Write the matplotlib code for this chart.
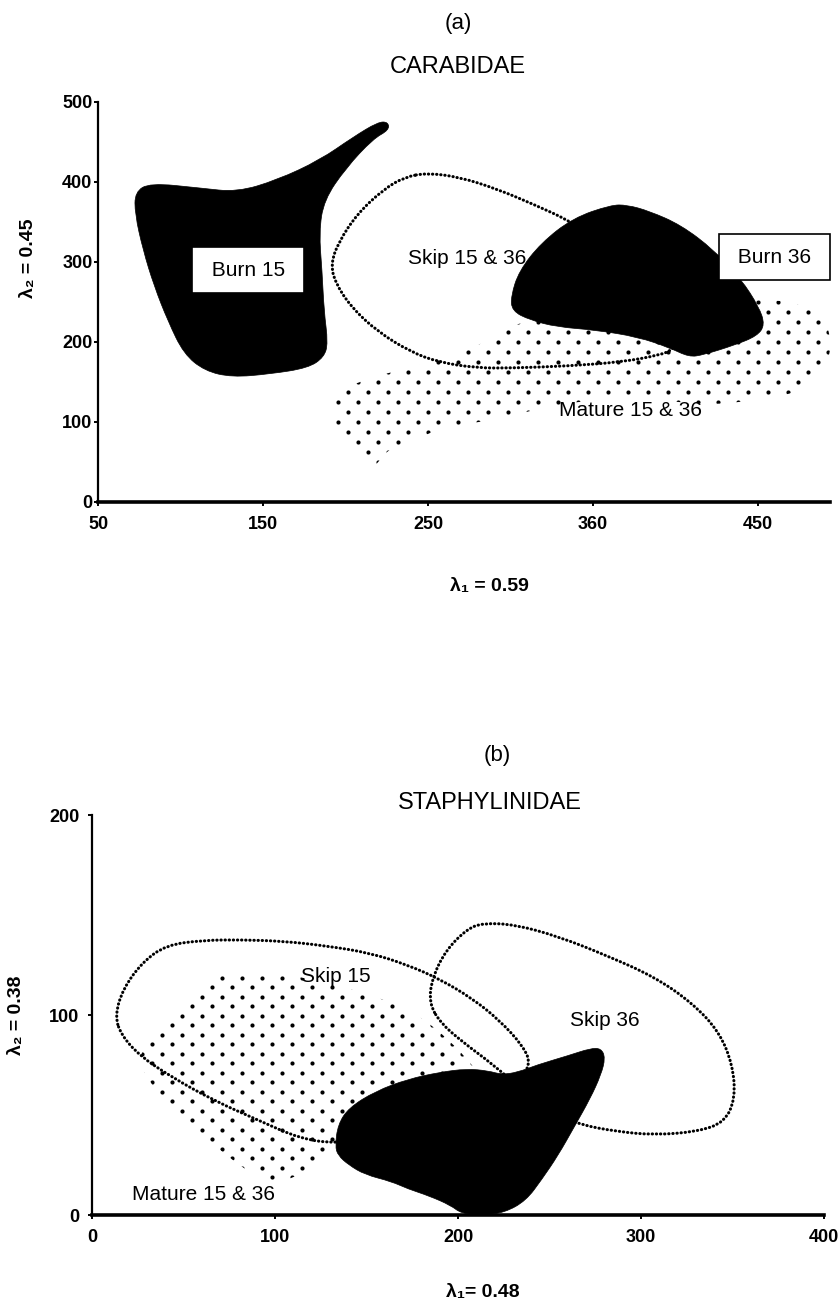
import matplotlib
matplotlib.use('Agg')
import matplotlib.pyplot as plt
import numpy as np
from matplotlib.patches import PathPatch
from matplotlib.path import Path

plt.rcParams['font.family'] = ['Liberation Sans', 'DejaVu Sans']

W, H = 839, 1307

# ---- (a) CARABIDAE ----
a_xticks = [50, 150, 250, 350, 450]
a_xticklabels = ['50', '150', '250', '360', '450']
a_yticks = [0, 100, 200, 300, 400, 500]

burn15_x = [72.4, 81.5, 111.8, 134.2, 158.5, 184.5, 204.5, 219.7, 225.8, 226.4, 216.7, 200.3,
            187.0, 184.0, 185.8, 187.0, 189.4, 187.0, 177.3, 154.2, 131.2, 114.8, 102.0, 92.4,
            84.0, 77.3, 72.4]
burn15_y = [387.5, 398.8, 392.5, 387.5, 402.5, 427.5, 456.0, 475.0, 475.0, 465.0, 453.8, 417.5,
            377.5, 337.5, 288.8, 238.8, 198.8, 181.0, 167.5, 160.0, 156.0, 163.8, 185.0, 226.0,
            270.0, 315.0, 360.0]

burn36_x = [360.9, 370.6, 383.9, 403.3, 423.3, 439.7, 450.6, 454.2, 449.4, 436.1, 416.7, 408.2,
            396.7, 377.3, 351.2, 328.2, 311.8, 300.9, 300.3, 305.2, 318.5, 337.9]
burn36_y = [371.3, 371.3, 363.8, 346.3, 315.0, 278.8, 243.8, 221.3, 207.5, 196.3, 183.8, 181.3,
            192.5, 206.3, 215.0, 218.8, 227.5, 238.8, 257.5, 288.8, 323.8, 355.0]

skip_a_x = [249.4, 268.8, 291.8, 314.8, 334.8, 354.2, 378.5, 396.7, 402.7, 397.9, 390.6, 367.6,
            334.8, 302.1, 279.1, 256.1, 239.7, 219.7, 203.3, 193.6, 191.2, 195.5, 207.0, 223.3,
            236.1]
skip_a_y = [411.3, 406.3, 391.3, 371.3, 352.5, 327.5, 290.0, 240.0, 202.5, 190.0, 183.8, 175.0,
            170.0, 167.5, 167.5, 175.0, 187.5, 212.5, 243.8, 275.0, 297.5, 323.8, 360.0, 391.3,
            406.3]

mature_a_x = [215.5, 208.8, 199.7, 190.6, 192.4, 199.7, 214.8, 233.0, 257.3, 275.5, 293.6, 305.8,
              330.0, 360.3, 390.6, 414.8, 439.1, 469.4, 492.4, 494.8, 478.5, 442.1, 414.8, 378.5,
              348.2, 317.9, 296.7, 257.3, 245.2, 227.0, 220.9]
mature_a_y = [40.0, 55.0, 77.5, 102.5, 127.5, 142.5, 155.0, 165.0, 177.5, 190.0, 211.3, 225.0,
              230.0, 221.3, 215.0, 225.0, 252.5, 252.5, 230.0, 177.5, 137.5, 125.0, 121.3, 131.3,
              127.5, 117.5, 105.0, 92.5, 80.0, 67.5, 52.5]

# ---- (b) STAPHYLINIDAE ----
b_xticks = [0, 100, 200, 300, 400]
b_yticks = [0, 100, 200]

skip15_x = [12.6, 17.0, 27.3, 40.5, 61.0, 81.6, 105.0, 128.5, 152.0, 172.5, 190.1, 207.7, 222.4,
            235.6, 240.0, 231.2, 207.7, 178.4, 154.9, 134.4, 113.8, 90.4, 66.9, 43.4, 25.8, 15.6]
skip15_y = [100.0, 113.1, 126.2, 135.0, 137.4, 137.6, 136.9, 134.5, 131.0, 125.0, 117.9, 108.3,
            97.6, 84.5, 75.0, 65.5, 53.6, 44.0, 39.3, 35.7, 38.1, 47.6, 57.1, 69.0, 79.8, 90.5]

skip36_x = [184.3, 185.7, 193.1, 204.8, 213.6, 231.2, 254.7, 281.1, 307.5, 328.0, 342.7, 350.1,
            351.5, 345.7, 331.0, 307.5, 287.0, 266.4, 251.8, 234.2, 219.5, 201.9, 190.1]
skip36_y = [106.0, 117.9, 132.1, 142.9, 146.0, 145.2, 139.3, 129.8, 119.0, 106.0, 91.7, 75.0,
            58.3, 46.4, 41.7, 40.0, 41.7, 45.2, 51.2, 63.1, 75.0, 86.9, 96.4]

burn_b_x = [132.9, 134.4, 140.3, 154.9, 172.5, 190.1, 204.8, 216.5, 223.9, 232.7, 243.0, 260.6,
            272.3, 278.2, 280.5, 278.2, 272.3, 263.5, 254.7, 245.9, 237.1, 225.4, 213.6, 201.9,
            196.0, 184.3, 172.5, 163.7, 149.1, 140.3, 134.4]
burn_b_y = [34.5, 45.2, 53.6, 61.9, 67.9, 71.4, 73.1, 72.1, 70.2, 71.4, 75.0, 79.8,
            83.3, 83.3, 78.6, 70.2, 58.3, 44.0, 29.8, 17.9, 7.1, 1.2, 0.0, 0.7,
            4.8, 9.5, 13.1, 16.7, 20.2, 25.0, 29.8]

mature_b_x = [69.8, 96.2, 125.6, 154.9, 178.4, 196.0, 207.7, 213.6, 172.5, 137.3, 128.5, 113.8,
              100.6, 87.4, 66.9, 46.4, 31.7, 24.4, 37.6, 52.2]
mature_b_y = [121.4, 122.1, 116.7, 109.5, 100.0, 86.9, 75.0, 67.9, 60.7, 41.7, 29.8, 20.2,
              15.5, 20.2, 34.5, 51.2, 65.5, 79.8, 95.2, 108.3]


def px_axes(left, top, right, bottom):
    return fig.add_axes([left / W, 1 - bottom / H, (right - left) / W, (bottom - top) / H])


def style_axes(ax, ypad):
    for s in ['top', 'right']:
        ax.spines[s].set_visible(False)
    ax.spines['left'].set_linewidth(1.6)
    ax.spines['bottom'].set_linewidth(2.6)
    ax.tick_params(axis='x', direction='out', length=3, width=1.4, pad=7, labelsize=13)
    ax.tick_params(axis='y', direction='out', length=3, width=1.4, pad=ypad, labelsize=13)


def smooth_path(xs, ys):
    # closed quadratic bezier chain using the outline points as control points
    p = np.column_stack([xs, ys])
    mids = (p + np.roll(p, -1, axis=0)) / 2
    verts = [mids[-1]]
    codes = [Path.MOVETO]
    for i in range(len(p)):
        verts += [p[i], mids[i]]
        codes += [Path.CURVE3, Path.CURVE3]
    verts.append(mids[-1])
    codes.append(Path.CLOSEPOLY)
    return Path(verts, codes)


def blob(ax, xs, ys):
    ax.add_patch(PathPatch(smooth_path(xs, ys), facecolor='black', edgecolor='black',
                           linewidth=0.5, zorder=3))


def dotted(ax, xs, ys):
    ax.add_patch(PathPatch(smooth_path(xs, ys), facecolor='none', edgecolor='black',
                           linewidth=2.2, linestyle=(0, (0.1, 1.25)), capstyle='round',
                           zorder=2))


def dot_fill(ax, xs, ys, dx, dy, size):
    patch = PathPatch(smooth_path(xs, ys), facecolor='none', edgecolor='none')
    ax.add_patch(patch)
    x0, x1 = ax.get_xlim()
    y0, y1 = ax.get_ylim()
    pts = []
    for i, yy in enumerate(np.arange(y0, y1, dy)):
        off = dx / 2 if i % 2 else 0
        for xx in np.arange(x0 + off, x1, dx):
            pts.append((xx, yy))
    pts = np.array(pts)
    sc = ax.scatter(pts[:, 0], pts[:, 1], s=size, color='black', linewidths=0, zorder=1)
    sc.set_clip_path(patch)


fig = plt.figure(figsize=(W / 100, H / 100), dpi=100)

# panel (a)
ax = px_axes(98, 102, 830, 502)
ax.set_xlim(50, 50 + 732 / 1.65)
ax.set_ylim(0, 500)
ax.set_xticks(a_xticks, a_xticklabels, fontweight='bold')
ax.set_yticks(a_yticks, [str(v) for v in a_yticks], fontweight='bold')
style_axes(ax, 1)
dot_fill(ax, mature_a_x, mature_a_y, 20 / 1.65, 10 / 0.8, 9)
dotted(ax, skip_a_x, skip_a_y)
blob(ax, burn15_x, burn15_y)
blob(ax, burn36_x, burn36_y)
box = dict(boxstyle='square,pad=0.65', facecolor='white', edgecolor='black', linewidth=1.2)
ax.text(141, 290, ' Burn 15 ', ha='center', va='center', fontsize=15, bbox=box, zorder=5)
ax.text(460, 306, ' Burn 36 ', ha='center', va='center', fontsize=15, bbox=box, zorder=5)
ax.text(274, 304, 'Skip 15 & 36', ha='center', va='center', fontsize=15, zorder=5)
ax.text(373, 114, 'Mature 15 & 36', ha='center', va='center', fontsize=15, zorder=5)

fig.text(458 / W, 1 - 23 / H, '(a)', ha='center', va='center', fontsize=16)
fig.text(458 / W, 1 - 67 / H, 'CARABIDAE', ha='center', va='center', fontsize=17)
fig.text(489 / W, 1 - 586 / H, 'λ\u2081 = 0.59', ha='center', va='center', fontsize=14,
         fontweight='bold')
fig.text(28 / W, 1 - 258 / H, 'λ\u2082 = 0.45', ha='center', va='center', fontsize=14,
         fontweight='bold', rotation=90)

# panel (b)
ax = px_axes(92, 815, 824, 1215)
ax.set_xlim(0, 400)
ax.set_ylim(0, 200)
ax.set_xticks(b_xticks, [str(v) for v in b_xticks], fontweight='bold')
ax.set_yticks(b_yticks, [str(v) for v in b_yticks], fontweight='bold')
style_axes(ax, 6)
dot_fill(ax, mature_b_x, mature_b_y, 20 / 1.83, 9.5 / 2.0, 9)
dotted(ax, skip15_x, skip15_y)
dotted(ax, skip36_x, skip36_y)
blob(ax, burn_b_x, burn_b_y)
ax.text(133, 119, 'Skip 15', ha='center', va='center', fontsize=15, zorder=5)
ax.text(280, 97, 'Skip 36', ha='center', va='center', fontsize=15, zorder=5)
ax.text(61, 10, 'Mature 15 & 36', ha='center', va='center', fontsize=15, zorder=5)

fig.text(497 / W, 1 - 755 / H, '(b)', ha='center', va='center', fontsize=16)
fig.text(490 / W, 1 - 803 / H, 'STAPHYLINIDAE', ha='center', va='center', fontsize=17)
fig.text(483 / W, 1 - 1293 / H, 'λ\u2081= 0.48', ha='center', va='center', fontsize=14,
         fontweight='bold')
fig.text(16 / W, 1 - 1015 / H, 'λ\u2082 = 0.38', ha='center', va='center', fontsize=14,
         fontweight='bold', rotation=90)

fig.savefig('out.png', dpi=100)
